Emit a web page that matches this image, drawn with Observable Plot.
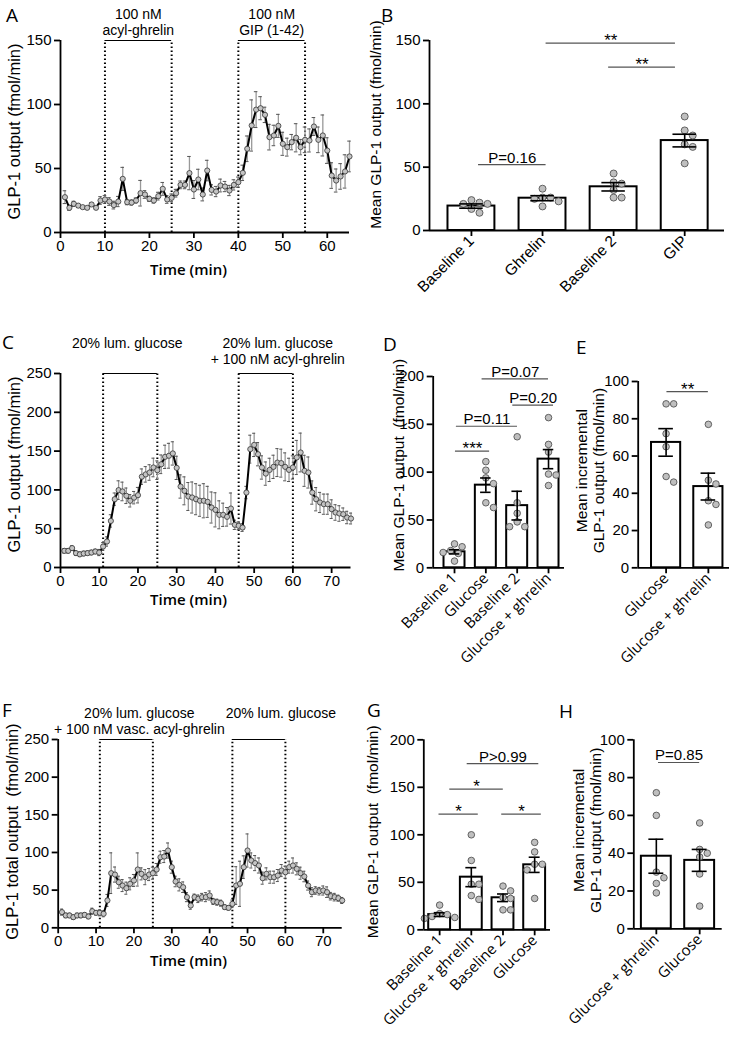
<!DOCTYPE html>
<html><head><meta charset="utf-8">
<script src="https://cdn.jsdelivr.net/npm/d3@7"></script>
<script src="https://cdn.jsdelivr.net/npm/@observablehq/plot@0.6"></script>
<style>
body{margin:0;background:#fff;}
#fig{position:relative;width:730px;height:1042px;overflow:hidden;background:#fff;}
.letter{position:absolute;font-family:"Open Sans",sans-serif;font-size:19px;line-height:19px;color:#000;}
</style></head><body><div id="fig"></div>
<script>
// ---------- DATA ----------
// Panel A: time course, acyl-ghrelin then GIP
const timeA = d3.range(1, 66);
const glp1A = [27.6,19.3,22.4,21,19.8,19.3,21.9,19.3,25,25.8,
  24.2,21.4,24.2,41.9,23.7,23.4,25,30.7,29.7,26.3,
  25,28.4,34.1,25.8,27.1,30.7,37.2,37.2,46.4,33.6,
  41.4,29.7,48.4,33.3,32,36.7,35.9,32.8,37.2,39.3,
  46.6,65.4,83.6,96,97.1,91.9,74.5,75.8,83.3,69.3,
  66.7,70.6,74,66.7,72.4,71.9,82.8,72.4,75.8,64,
  44.5,40.6,43.8,47.7,59.4];
const semA = [5,2,2,1.5,1,1,1.5,1,3,3,
  3,3,4,9,2,2,2,10,3,2,
  2,3,5,3,3,3,3,3,13,7,
  8,5,8,4,4,5,4,4,4,4,
  6,10,20,14,9,6,10,8,9,9,
  7,6,11,6,10,9,7,10,16,10,
  10,9,10,13,12];
const periodsA = [[10,25],[40,55]];
const periodLabelsA = [["100 nM","acyl-ghrelin"],["100 nM","GIP (1-42)"]];

// Panel B
const catsB = ["Baseline 1","Ghrelin","Baseline 2","GIP"];
const meansB = [19.3,25.5,34.5,71];
const semsB = [1.7,2,3.3,5];
const pointsB = [[24,21,22,14,17,21],[33,26,26,25,23,19],[45,38,37,32,26,26],[90,79,75,68,66,53]];
const compsB = [{a:0.1,b:1.05,h:52,label:"P=0.16"},{a:1.05,b:2.87,h:148,label:"**"},{a:1.93,b:2.87,h:129,label:"**"}];

// Panel C: luminal glucose, then glucose + acyl-ghrelin
const timeC = d3.range(1, 76);
const glp1C = [21.5,21.5,25,18.5,17,18,18.5,19.3,20.6,19.3,
  27,33.5,60,88,99.7,98,92.4,86,90,93.2,
  117,120,122.4,128.9,125.4,133,142.6,144,147,128.4,
  104.4,98.8,91.5,90.2,88,86,86,84.6,77.3,74.3,
  67.9,67.9,65.3,76,55,53.7,51.5,96.6,152.5,158,
  146,128.9,121,125.8,129.7,135.2,134.5,129.7,125.8,128.9,
  141.8,148.2,124.6,122.4,96.6,88,83.8,81.6,81.6,75.2,
  70.9,69.6,68.7,64.4,63.1];
const semC = [3,3,3,3,3,3,3,3,3,4,
  5,6,8,8,12,12,10,8,8,10,
  10,10,10,12,12,12,15,16,15,15,
  15,18,18,20,20,20,22,20,20,22,
  18,15,12,20,6,5,5,8,18,15,
  15,15,15,15,15,18,18,18,15,15,
  22,25,20,20,15,15,13,13,13,12,
  10,10,8,8,7];
const periodsC = [[11,25],[46,60]];
const periodLabelsC = [["20% lum. glucose"],["20% lum. glucose","+ 100 nM acyl-ghrelin"]];

// Panel D
const catsD = ["Baseline 1","Glucose","Baseline 2","Glucose + ghrelin"];
const meansD = [16.7,86.4,65,113.6];
const semsD = [2.2,7.5,15,10];
const pointsD = [[25,22,18,16,15,7],[111,102,94,88,63,68],[137,68,57,48,43,43],[157,129,121,98,97,86]];
const compsD = [{a:0.03,b:1.12,h:122,label:"***"},{a:0.06,b:2.01,h:148,label:"P=0.11"},{a:1.86,b:3.16,h:170,label:"P=0.20"},{a:0.88,b:3.0,h:197.6,label:"P=0.07"}];

// Panel E
const catsE = ["Glucose","Glucose + ghrelin"];
const meansE = [67.3,43.6];
const semsE = [7.4,7.2];
const pointsE = [[88,88,72,65,49,46],[77,47,45,36,34,23]];
const compsE = [{a:0.02,b:1.0,h:94.6,label:"**"}];

// Panel F: glucose + vascular acyl-ghrelin, then glucose
const timeF = d3.range(1, 76);
const glp1F = [20.8,16.4,16.4,14.1,16.4,16.4,17.2,15,22,19.9,
  19.9,18.6,36.3,72.5,70.7,60.5,56.1,52.6,58.4,62.8,
  77.4,71.6,67.2,70.7,72.5,77.4,93.7,94.6,102.6,80.5,
  61.5,57,53.9,40.7,29.6,40.7,38.5,40.7,40.7,42.9,
  35,34,32.7,27.4,26.5,31.8,56.1,58.4,80.5,102.6,
  89.4,85.9,82.7,65.9,71.6,67.2,67.2,69.4,76,73.8,
  80.5,82.7,78.3,72.5,68.1,56.1,47.3,49.5,48.6,49.5,
  47.3,42,40.7,39.3,36.3];
const semF = [4,3,3,3,3,3,3,3,4,3,
  4,4,8,27,10,8,8,8,8,8,
  22,8,10,8,8,8,8,8,10,8,
  7,8,7,6,5,4,5,5,6,6,
  4,4,4,3,3,5,25,30,15,22,
  10,10,10,8,8,8,8,8,8,8,
  8,10,8,8,7,6,6,5,5,6,
  7,5,5,4,4];
const periodsF = [[11,25],[46,60]];
const periodLabelsF = [["20% lum. glucose","+ 100 nM vasc. acyl-ghrelin"],["20% lum. glucose"]];

// Panel G
const catsG = ["Baseline 1","Glucose + ghrelin","Baseline 2","Glucose"];
const meansG = [16,55.4,33.7,68.4];
const semsG = [2,10,4,8];
const pointsG = [[26,17,16,13,12,14],[100,73,48,48,36,32],[46,41,34,33,21,21],[92,82,69,69,63,33]];
const compsG = [{a:-0.02,b:1.22,h:121.7,label:"*"},{a:0.32,b:2.01,h:148,label:"*"},{a:1.96,b:3.21,h:121.7,label:"*"},{a:0.87,b:3.13,h:175,label:"P>0.99"}];

// Panel H
const catsH = ["Glucose + ghrelin","Glucose"];
const meansH = [38.4,36.2];
const semsH = [9,5.8];
const pointsH = [[72,60,30,27,24,19],[56,42,40,38,29,12]];
const compsH = [{a:0.05,b:1.0,h:88,label:"P=0.85"}];

// ---------- DRAWING ----------
const fig = document.getElementById("fig");
const SANS = '"Liberation Sans", Arial, sans-serif';
const OPEN = '"Open Sans", sans-serif';

function margins(o){
  return {marginLeft:o.frameL-o.left, marginRight:o.left+o.width-o.frameR,
          marginTop:o.frameT-o.top, marginBottom:o.top+o.height-o.frameB};
}
function place(svg,o){
  svg.style.position="absolute"; svg.style.left=o.left+"px"; svg.style.top=o.top+"px";
  svg.style.maxWidth="none";
  fig.appendChild(svg);
}
function yLabelMark(o, size){
  return Plot.text([o.ylabel.join("\n")], {frameAnchor:"left", text:d=>d, rotate:-90,
    dx:o.ylabelX-o.frameL, dy:o.ylabelDy||0, lineAnchor:"middle", textAnchor:"middle", fontSize:size, fontFamily:SANS, lineHeight:1.1});
}

function linePanel(o){
  const rows = o.t.map((t,i)=>({t, v:o.v[i], e:o.e[i]}));
  const top = o.yDomain[1];
  const bounds = o.periods.flat();
  const annot = [];
  o.periods.forEach((p,k)=>{
    o.periodLabels[k].forEach((s,j)=>{
      annot.push(Plot.text([s], {x:()=> (p[0]+p[1])/2, y:()=>top, text:d=>d, dx:o.labelDx[k],
        dy:o.labelTop+16.5*j, lineAnchor:"middle", fontSize:14, fontFamily:SANS}));
    });
  });
  const cx = (o.frameL+o.frameR)/2;
  const svg = Plot.plot({
    width:o.width, height:o.height, ...margins(o),
    style:{fontFamily:SANS, fontSize:"15px", background:"transparent", overflow:"visible", color:"#000"},
    x:{domain:o.xDomain}, y:{domain:o.yDomain},
    marks:[
      Plot.ruleX(bounds, {x:d=>d, y1:()=>0, y2:()=>top, stroke:"#000", strokeWidth:2, strokeDasharray:"1.6,2.4"}),
      Plot.ruleY(o.periods, {x1:d=>d[0], x2:d=>d[1], y:()=>top, stroke:"#000", strokeWidth:1}),
      Plot.ruleX(rows, {x:"t", y1:d=>d.v-d.e, y2:d=>d.v+d.e, stroke:"#999", strokeWidth:1.3}),
      Plot.ruleY(rows, {y:d=>d.v+d.e, x1:d=>d.t-0.4, x2:d=>d.t+0.4, stroke:"#555", strokeWidth:1}),
      Plot.ruleY(rows, {y:d=>d.v-d.e, x1:d=>d.t-0.4, x2:d=>d.t+0.4, stroke:"#555", strokeWidth:1}),
      Plot.line(rows, {x:"t", y:"v", stroke:"#000", strokeWidth:2}),
      Plot.dot(rows, {x:"t", y:"v", r:2.6, fill:"#c4c4c4", stroke:"#333", strokeWidth:0.8}),
      Plot.ruleX([o.xDomain[0]], {stroke:"#000", strokeWidth:1.8}),
      Plot.ruleY([o.yDomain[0]], {stroke:"#000", strokeWidth:1.8}),
      Plot.axisY({ticks:o.yTicks, tickSize:6, tickPadding:3, strokeWidth:1.8, label:null, fontSize:15}),
      Plot.axisX({ticks:o.xTicks, tickSize:6, tickPadding:2, strokeWidth:1.8, label:null, fontSize:15}),
      ...annot,
      yLabelMark(o, 16.5),
      Plot.text(["Time (min)"], {frameAnchor:"bottom", text:d=>d, dy:o.timeY-o.frameB, dx:188-cx,
        lineAnchor:"middle", fontSize:15, fontFamily:OPEN, fontWeight:600})
    ]
  });
  place(svg,o);
}

function dodge(vals, k, r){
  const order = vals.map((v,j)=>j).sort((a,b)=>vals[b]-vals[a]);
  const offs = new Array(vals.length);
  const placed = [];
  const minD = 2*r + 0.6;
  for (const j of order){
    const y = vals[j]*k;
    let chosen = 0;
    for (let n=0; n<40; n++){
      const c = n===0 ? 0 : (n%2 ? 1 : -1)*Math.ceil(n/2)*r*1.15;
      if (placed.every(p => Math.hypot(p.x-c, p.y-y) >= minD)) { chosen = c; break; }
    }
    offs[j] = chosen; placed.push({x:chosen, y});
  }
  return offs;
}

function barPanel(o){
  const stepPx = (o.frameR-o.frameL)/(o.xDomain[1]-o.xDomain[0]);
  const k = (o.frameB-o.frameT)/(o.yDomain[1]-o.yDomain[0]);
  const bars = o.cats.map((c,i)=>({i, m:o.means[i], s:o.sems[i]}));
  const pts = o.points.flatMap((vals,i)=>{const off=dodge(vals,k,o.r); return vals.map((v,j)=>({x:i+off[j]/stepPx, v}));});
  const half = o.half, cap = o.half*0.5;
  const stars = o.comps.filter(d=>d.label.startsWith("*"));
  const ps = o.comps.filter(d=>!d.label.startsWith("*"));
  const svg = Plot.plot({
    width:o.width, height:o.height, ...margins(o),
    style:{fontFamily:SANS, fontSize:"15px", background:"transparent", overflow:"visible", color:"#000"},
    x:{domain:o.xDomain}, y:{domain:o.yDomain},
    marks:[
      Plot.rectY(bars, {x1:d=>d.i-half, x2:d=>d.i+half, y1:()=>0, y2:"m", fill:"#fff", stroke:"#000", strokeWidth:2}),
      Plot.dot(pts, {x:"x", y:"v", r:o.r, fill:"#bfbfbf", stroke:"#555", strokeWidth:0.9}),
      Plot.ruleX(bars, {x:"i", y1:d=>d.m-d.s, y2:d=>d.m+d.s, stroke:"#000", strokeWidth:1.6}),
      Plot.ruleY(bars, {y:d=>d.m+d.s, x1:d=>d.i-cap, x2:d=>d.i+cap, stroke:"#000", strokeWidth:1.6}),
      Plot.ruleY(bars, {y:d=>d.m-d.s, x1:d=>d.i-cap, x2:d=>d.i+cap, stroke:"#000", strokeWidth:1.6}),
      Plot.ruleY(o.comps, {y:"h", x1:"a", x2:"b", stroke:"#555", strokeWidth:1.2}),
      Plot.text(ps, {x:d=>(d.a+d.b)/2, y:"h", text:"label", lineAnchor:"bottom", dy:-2, fontSize:15, fontFamily:SANS}),
      Plot.text(stars, {x:d=>(d.a+d.b)/2, y:"h", text:"label", lineAnchor:"bottom", dy:3, fontSize:17, fontFamily:SANS}),
      Plot.ruleX([o.xDomain[0]], {stroke:"#000", strokeWidth:1.8}),
      Plot.ruleY([o.yDomain[0]], {stroke:"#000", strokeWidth:1.8}),
      Plot.axisY({ticks:o.yTicks, tickSize:6, tickPadding:3, strokeWidth:1.8, label:null, fontSize:15}),
      Plot.axisX({ticks:o.cats.map((c,i)=>i), tickFormat:i=>o.cats[i], tickRotate:-45, tickSize:6, tickPadding:2,
        strokeWidth:1.8, label:null, fontSize:o.catSize, fontFamily:o.catFont}),
      yLabelMark(o, 15.5)
    ]
  });
  place(svg,o);
}

linePanel({left:0, top:0, width:365, height:290, frameL:60, frameR:349, frameT:40, frameB:232,
  t:timeA, v:glp1A, e:semA, xDomain:[0,65], yDomain:[0,150], yTicks:[0,50,100,150], xTicks:[0,10,20,30,40,50,60],
  periods:periodsA, periodLabels:periodLabelsA, labelDx:[0,0], labelTop:-26, timeY:270,
  ylabel:["GLP-1 output (fmol/min)"], ylabelX:14, ylabelDy:-5});

barPanel({left:365, top:0, width:365, height:320, frameL:429, frameR:724, frameT:40, frameB:230,
  cats:catsB, means:meansB, sems:semsB, points:pointsB, comps:compsB,
  xDomain:[-0.59,3.56], yDomain:[0,150], yTicks:[0,50,100,150], half:0.33, r:3.5,
  catFont:SANS, catSize:15.5, ylabel:["Mean GLP-1 output (fmol/min)"], ylabelX:375, ylabelDy:-11});

linePanel({left:0, top:320, width:365, height:300, frameL:60, frameR:350.5, frameT:373, frameB:567,
  t:timeC, v:glp1C, e:semC, xDomain:[0,75], yDomain:[0,250], yTicks:[0,50,100,150,200,250], xTicks:[0,10,20,30,40,50,60,70],
  periods:periodsC, periodLabels:periodLabelsC, labelDx:[-3,12], labelTop:-30, timeY:600,
  ylabel:["GLP-1 output (fmol/min)"], ylabelX:14, ylabelDy:-6});

barPanel({left:365, top:320, width:200, height:320, frameL:432.7, frameR:564, frameT:376, frameB:567.3,
  cats:catsD, means:meansD, sems:semsD, points:pointsD, comps:compsD,
  xDomain:[-0.68,3.51], yDomain:[0,200], yTicks:[0,50,100,150,200], half:0.335, r:3.3,
  catFont:OPEN, catSize:15, ylabel:["Mean GLP-1 output  (fmol/min)"], ylabelX:398, ylabelDy:-7});

barPanel({left:565, top:320, width:165, height:320, frameL:637.7, frameR:729, frameT:381, frameB:567.3,
  cats:catsE, means:meansE, sems:semsE, points:pointsE, comps:compsE,
  xDomain:[-0.66,1.5], yDomain:[0,100], yTicks:[0,20,40,60,80,100], half:0.345, r:3.3,
  catFont:OPEN, catSize:15, ylabel:["Mean incremental","GLP-1 output (fmol/min)"], ylabelX:590, ylabelDy:-4});

linePanel({left:0, top:640, width:365, height:340, frameL:57.7, frameR:341.7, frameT:739, frameB:927.3,
  t:timeF, v:glp1F, e:semF, xDomain:[0,75], yDomain:[0,250], yTicks:[0,50,100,150,200,250], xTicks:[0,10,20,30,40,50,60,70],
  periods:periodsF, periodLabels:periodLabelsF, labelDx:[13,22], labelTop:-26.3, timeY:961,
  ylabel:["GLP-1 total output  (fmol/min)"], ylabelX:12, ylabelDy:-2});

barPanel({left:365, top:640, width:190, height:340, frameL:423.3, frameR:550, frameT:739.3, frameB:929.3,
  cats:catsG, means:meansG, sems:semsG, points:pointsG, comps:compsG,
  xDomain:[-0.5,3.5], yDomain:[0,200], yTicks:[0,50,100,150,200], half:0.345, r:3.3,
  catFont:OPEN, catSize:15, ylabel:["Mean GLP-1 output  (fmol/min)"], ylabelX:372, ylabelDy:-3});

barPanel({left:555, top:640, width:175, height:340, frameL:633.3, frameR:721.7, frameT:739.3, frameB:928.3,
  cats:catsH, means:meansH, sems:semsH, points:pointsH, comps:compsH,
  xDomain:[-0.52,1.52], yDomain:[0,100], yTicks:[0,20,40,60,80,100], half:0.345, r:3.3,
  catFont:OPEN, catSize:15, ylabel:["Mean incremental","GLP-1 output (fmol/min)"], ylabelX:587, ylabelDy:-4});

// panel letters
[["A",6,6],["B",381,6],["C",2,333],["D",383,335],["E",576,338],["F",2,701],["G",367,701],["H",559,702]]
  .forEach(([s,x,y])=>{const d=document.createElement("div"); d.className="letter"; d.textContent=s;
    d.style.left=x+"px"; d.style.top=y+"px"; fig.appendChild(d);});
</script></body></html>
